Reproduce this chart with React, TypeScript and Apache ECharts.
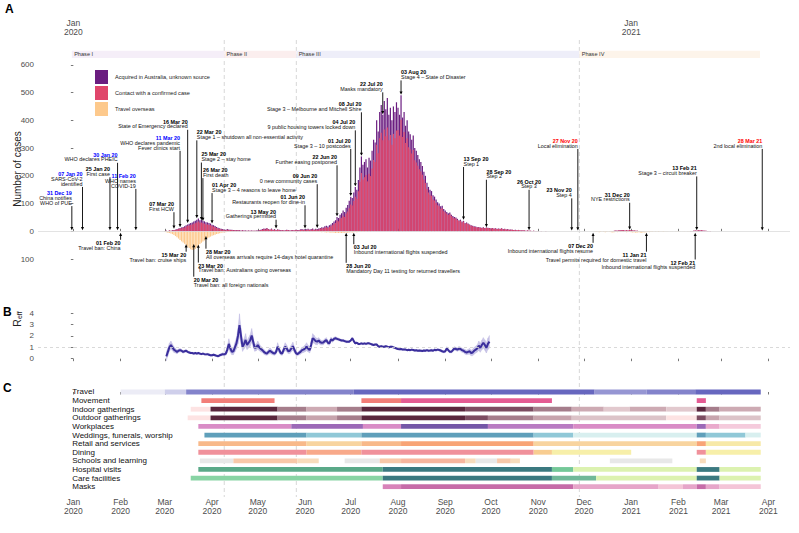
import React, { useEffect, useRef } from "react";
import * as echarts from "echarts";

const FONT = "'Liberation Sans', Arial, Helvetica, sans-serif";

// ---- x axis: days since 1 Jan 2020 ----
const X_MIN = -23.2;
const X_MAX = 470.2;
const monthStartDays = [0, 31, 60, 91, 121, 152, 182, 213, 244, 274, 305, 335, 366, 397, 425, 456];
const monthTickLabels = [
  "Jan\n2020", "Feb\n2020", "Mar\n2020", "Apr\n2020", "May\n2020", "Jun\n2020", "Jul\n2020", "Aug\n2020",
  "Sep\n2020", "Oct\n2020", "Nov\n2020", "Dec\n2020", "Jan\n2021", "Feb\n2021", "Mar\n2021", "Apr\n2021",
];
const yearStartDays = [0, 366];

// ---- Panel A: daily cases, first value = 1 Mar 2020 (day 60) ----
const firstCaseDay = 60;
// all locally acquired cases (contact + unknown source)
const localCases = [
  // Mar 2020
  1, 2, 1, 3, 2, 4, 5, 6, 8, 10, 12, 14, 16, 18, 22, 25, 27, 30, 32, 35, 38, 42, 46, 40, 42, 38, 36, 33, 32, 30, 28,
  // Apr
  24, 22, 19, 16, 13, 11, 9, 8, 7, 6, 8, 7, 6, 6, 5, 5, 4, 5, 4, 3, 4, 3, 3, 2, 3, 2, 3, 2, 2, 3,
  // May
  3, 4, 6, 8, 10, 9, 12, 8, 7, 10, 6, 8, 5, 7, 6, 4, 5, 3, 4, 6, 5, 3, 4, 5, 3, 6, 4, 5, 7, 8, 6,
  // Jun
  8, 7, 9, 6, 8, 10, 7, 9, 8, 10, 12, 15, 14, 18, 20, 17, 22, 25, 30, 35, 40, 52, 48, 60, 65, 75, 70, 85, 95, 110,
  // Jul
  125, 120, 140, 160, 150, 185, 230, 270, 240, 250, 260, 230, 265, 255, 290, 330, 320, 400, 360, 430, 455, 420, 470, 440, 480, 420, 445, 400, 450, 430, 465,
  // Aug
  445, 420, 490, 410, 430, 380, 400, 360, 350, 330, 345, 300, 290, 275, 260, 250, 235, 215, 200, 175, 160, 150, 145, 130, 125, 115, 105, 100, 90, 92, 80,
  // Sep
  75, 70, 65, 68, 60, 55, 52, 50, 45, 40, 42, 35, 38, 30, 32, 28, 25, 22, 20, 18, 17, 15, 16, 14, 13, 15, 12, 14, 13, 12,
  // Oct
  11, 12, 10, 11, 9, 10, 9, 11, 8, 9, 7, 8, 6, 7, 6, 5, 6, 4, 5, 4, 3, 4, 3, 2, 3, 2, 2, 1, 2, 1, 1,
  // Nov
  1, 0, 1, 0, 0, 1, 0, 0, 0, 0, 0, 0, 0, 0, 0, 0, 0, 0, 0, 0, 0, 0, 0, 0, 0, 0, 0, 0, 0, 0,
  // Dec
  0, 0, 0, 0, 0, 0, 0, 0, 0, 0, 0, 0, 0, 0, 0, 0, 0, 0, 0, 1, 2, 3, 2, 4, 3, 5, 4, 3, 4, 3, 5,
  // Jan 2021
  4, 3, 3, 2, 2, 1, 1, 1, 0, 0, 0, 0, 0, 0, 0, 0, 0, 0, 0, 0, 0, 0, 0, 0, 0, 0, 0, 0, 0, 0, 0,
  // Feb 2021
  0, 0, 0, 0, 0, 0, 0, 0, 1, 1, 2, 3, 2, 4, 3, 4, 3, 2, 2, 1, 1, 1, 0, 0, 0, 0, 0, 0,
];
const unknownSourceCases = [
  // Mar 2020
  0, 0, 0, 0, 0, 1, 1, 1, 1, 2, 2, 3, 3, 4, 5, 5, 6, 7, 7, 8, 9, 10, 11, 9, 10, 9, 8, 8, 7, 7, 6,
  // Apr
  5, 5, 4, 4, 3, 3, 2, 2, 2, 2, 2, 2, 1, 1, 1, 1, 1, 1, 1, 1, 1, 1, 1, 0, 1, 0, 1, 0, 0, 1,
  // May
  1, 1, 1, 2, 2, 2, 2, 1, 1, 2, 1, 2, 1, 1, 1, 1, 1, 0, 1, 1, 1, 0, 1, 1, 0, 1, 1, 1, 2, 2, 1,
  // Jun
  2, 2, 2, 1, 2, 3, 2, 2, 2, 3, 3, 4, 4, 5, 5, 5, 6, 7, 8, 9, 10, 13, 12, 15, 16, 19, 18, 21, 24, 27,
  // Jul
  28, 27, 31, 35, 33, 41, 51, 60, 53, 55, 57, 50, 58, 56, 64, 73, 70, 88, 79, 95, 100, 92, 103, 97, 106, 92, 98, 88, 99, 95, 102,
  // Aug
  80, 75, 88, 70, 72, 62, 65, 57, 54, 50, 52, 44, 42, 39, 36, 34, 31, 28, 26, 22, 20, 18, 17, 15, 14, 13, 11, 10, 9, 9, 8,
  // Sep
  7, 7, 6, 6, 5, 5, 5, 4, 4, 3, 4, 3, 3, 3, 3, 2, 2, 2, 2, 2, 1, 1, 2, 1, 1, 2, 1, 1, 1, 1,
  // Oct
  1, 1, 1, 1, 1, 1, 1, 1, 1, 1, 0, 1, 0, 1, 0, 0, 1, 0, 0, 0, 0, 0, 0, 0, 0, 0, 0, 0, 0, 0, 0,
];
const travelCases = [
  // Mar 2020
  2, 3, 5, 6, 8, 10, 13, 17, 21, 26, 31, 36, 40, 45, 49, 55, 60, 65, 67, 66, 64, 58, 52, 46, 41, 37, 33, 29, 25, 22, 19,
  // Apr
  16, 14, 12, 10, 9, 7, 5, 4, 3, 3, 2, 2, 2, 1, 1, 1, 1, 1, 0, 1, 0, 1, 0, 0, 1, 0, 0, 1, 0, 0,
  // May
  0, 0, 0, 1, 0, 0, 0, 1, 0, 0, 0, 0, 1, 0, 0, 0, 0, 1, 0, 0, 0, 0, 1, 0, 0, 1, 0, 0, 1, 0, 0,
  // Jun
  1, 0, 1, 1, 0, 1, 1, 2, 1, 2, 2, 3, 2, 3, 4, 3, 4, 5, 4, 5, 6, 5, 6, 5, 6, 5, 5, 4, 5, 4,
  // Jul
  3, 4, 3, 2, 3, 2, 1, 2, 1, 1, 1, 0, 1, 0, 0, 1, 0, 0, 0, 0, 0, 0, 0, 0, 0, 0, 0, 0, 0, 0, 0,
  // Aug
  0, 0, 0, 0, 0, 0, 0, 0, 0, 0, 0, 0, 0, 0, 0, 0, 0, 0, 0, 0, 0, 0, 0, 0, 0, 0, 0, 0, 0, 0, 0,
  // Sep
  0, 0, 0, 0, 0, 0, 0, 0, 0, 0, 0, 0, 0, 0, 0, 0, 0, 0, 0, 0, 0, 0, 0, 0, 0, 0, 0, 0, 0, 0,
  // Oct
  0, 0, 0, 0, 0, 0, 0, 0, 0, 0, 0, 0, 0, 0, 0, 0, 0, 0, 0, 0, 0, 0, 0, 0, 0, 0, 0, 0, 0, 0, 0,
  // Nov
  0, 0, 0, 0, 0, 0, 0, 0, 0, 0, 0, 0, 0, 0, 0, 0, 0, 0, 0, 0, 0, 0, 0, 0, 0, 0, 0, 0, 0, 0,
  // Dec
  0, 0, 0, 0, 0, 0, 0, 1, 2, 1, 3, 2, 1, 2, 3, 2, 1, 2, 3, 4, 3, 2, 3, 1, 2, 2, 1, 2, 3, 2, 1,
  // Jan 2021
  3, 4, 3, 5, 4, 3, 4, 5, 3, 4, 3, 2, 3, 2, 2, 1, 2, 1, 2, 1, 1, 2, 1, 1, 1, 0, 1, 1, 0, 1, 1,
  // Feb 2021
  1, 1, 0, 1, 1, 0, 1, 1, 0, 1, 0, 1, 1, 0, 0, 0, 0, 0, 0, 0, 0, 0, 0, 0, 0, 0, 0, 0,
];

// ---- phases ----
const phaseNames = ["Phase I", "Phase II", "Phase III", "Phase IV"];
const phaseStartDays = [-1, 99, 146.3, 332];
const phaseEndDays = [99, 146.3, 332, 450.5];
const phaseColors = ["#f5eef8", "#fbeeee", "#eeeef9", "#fdf4ea"];

// ---- events: [date label, day, description, label height (cases), arrow tip (cases), anchor, kind] ----
const events: [string, number, string, number, number, string, string][] = [
  ["31 Dec 19", -1, "China notifies\nWHO of PUE", 137, 4, "right", "who"],
  ["07 Jan 20", 6, "SARS-CoV-2\nidentified", 206, 4, "right", "who"],
  ["25 Jan 20", 24, "First case", 224, 4, "right", "vic"],
  ["30 Jan 20", 29, "WHO declares PHEIC", 276, 4, "right", "who"],
  ["11 Feb 20", 41, "WHO names\nCOVID-19", 199, 4, "right", "who"],
  ["07 Mar 20", 66, "First HCW", 98, 9, "right", "vic"],
  ["11 Mar 20", 70, "WHO declares pandemic\nFever clinics start", 336, 15, "right", "who"],
  ["16 Mar 20", 75, "State of Emergency declared", 395, 30, "right", "vic"],
  ["22 Mar 20", 81, "Stage 1 – shutdown all non-essential activity", 357, 47, "left", "vic"],
  ["25 Mar 20", 84, "Stage 2 – stay home", 277, 40, "left", "vic"],
  ["26 Mar 20", 85, "First death", 221, 37, "left", "vic"],
  ["01 Apr 20", 91, "Stage 3 – 4 reasons to leave home", 167, 28, "left", "vic"],
  ["13 May 20", 133, "Gatherings permitted", 71, 10, "right", "vic"],
  ["01 Jun 20", 152, "Restaurants reopen for dine-in", 123, 10, "right", "vic"],
  ["09 Jun 20", 160, "0 new community cases", 199, 12, "right", "vic"],
  ["22 Jun 20", 173, "Further easing postponed", 267, 54, "right", "vic"],
  ["01 Jul 20", 182, "Stage 3 – 10 postcodes", 326, 127, "right", "vic"],
  ["04 Jul 20", 185, "9 public housing towers locked down", 393, 162, "right", "vic"],
  ["08 Jul 20", 189, "Stage 3 – Melbourne and Mitchell Shire", 458, 272, "right", "vic"],
  ["22 Jul 20", 203, "Masks mandatory", 530, 422, "right", "vic"],
  ["03 Aug 20", 215, "Stage 4 – State of Disaster", 573, 492, "left", "vic"],
  ["13 Sep 20", 256, "Step 1", 261, 42, "left", "vic"],
  ["28 Sep 20", 271, "Step 2", 215, 15, "left", "vic"],
  ["26 Oct 20", 299, "Step 3", 179, 4, "center", "vic"],
  ["23 Nov 20", 327, "Step 4", 148, 3, "right", "vic"],
  ["27 Nov 20", 331, "Local elimination", 326, 3, "right", "elim"],
  ["31 Dec 20", 365, "NYE restrictions", 132, 6, "right", "vic"],
  ["13 Feb 21", 409, "Stage 3 – circuit breaker", 227, 4, "right", "vic"],
  ["28 Mar 21", 452, "2nd local elimination", 326, 3, "right", "elim"],
  ["01 Feb 20", 31, "Travel ban: China", -42, -5, "right", "vic"],
  ["15 Mar 20", 74, "Travel ban: cruise ships", -85, -47, "right", "vic"],
  ["20 Mar 20", 79, "Travel ban: all foreign nationals", -175, -46, "left", "vic"],
  ["23 Mar 20", 82, "Travel ban: Australians going overseas", -124, -48, "left", "vic"],
  ["28 Mar 20", 87, "All overseas arrivals require 14-days hotel quarantine", -74, -17, "left", "vic"],
  ["28 Jun 20", 179, "Mandatory Day 11 testing for returned travellers", -125, -5, "left", "vic"],
  ["03 Jul 20", 184, "Inbound international flights suspended", -58, -5, "left", "vic"],
  ["07 Dec 20", 341, "Inbound international flights resume", -53, -5, "right", "vic"],
  ["11 Jan 21", 376, "Travel permits required for domestic travel", -85, -5, "right", "vic"],
  ["12 Feb 21", 408, "Inbound international flights suspended", -113, -5, "right", "vic"],
];
const eventKindColors: Record<string, string> = { who: "#0000ff", elim: "#ff0000", vic: "#000000" };

// ---- Panel B: R_eff, first value = day 61 ----
const firstReffDay = 61;
const reffMedian = [
  0.2, 0.6, 1.0, 1.2, 1.0, 0.8, 0.7, 0.6, 0.7, 0.75,
  0.7, 0.6, 0.65, 0.7, 0.6, 0.55, 0.5, 0.5, 0.45, 0.5,
  0.45, 0.5, 0.45, 0.4, 0.45, 0.4, 0.38, 0.4, 0.35, 0.3,
  0.3, 0.35, 0.3, 0.25, 0.22, 0.3, 0.35, 0.4, 0.38, 0.45,
  0.8, 1.3, 0.9, 0.6, 0.65, 1.0, 1.35, 2.0, 2.95, 2.0,
  1.05, 1.3, 1.65, 1.2, 1.4, 1.6, 2.05, 1.5, 0.95, 1.0,
  1.2, 1.0, 0.85, 0.75, 0.6, 0.5, 0.45, 0.6, 0.7, 0.6,
  0.5, 0.45, 0.6, 1.05, 0.8, 0.5, 0.45, 0.8, 1.05, 0.9,
  0.65, 0.7, 0.9, 1.1, 0.8, 0.5, 0.4, 0.5, 0.6, 0.75,
  0.8, 0.9, 1.05, 0.9, 0.75, 1.2, 1.8, 1.7, 1.55, 1.5,
  1.6, 1.45, 1.4, 1.42, 1.55, 1.65, 1.4, 1.35, 1.7, 1.6,
  1.75, 1.8, 1.75, 1.7, 1.65, 1.6, 1.6, 1.55, 1.5, 1.5,
  1.5, 1.6, 1.8, 1.55, 1.35, 1.4, 1.3, 1.3, 1.35, 1.3,
  1.35, 1.3, 1.35, 1.35, 1.3, 1.25, 1.2, 1.25, 1.25, 1.1,
  1.05, 1.1, 1.05, 1.05, 1.1, 1.05, 1.0, 1.05, 1.05, 1.0,
  0.95, 0.9, 0.85, 0.83, 0.85, 0.8, 0.8, 0.8, 0.75, 0.78,
  0.75, 0.8, 0.77, 0.72, 0.75, 0.7, 0.72, 0.7, 0.68, 0.72,
  0.7, 0.75, 0.7, 0.72, 0.75, 0.7, 0.78, 0.75, 0.8, 0.77,
  0.72, 0.65, 0.6, 0.65, 0.9, 0.75, 0.6, 0.6, 0.75, 0.9,
  0.85, 0.8, 0.9, 0.85, 0.75, 0.7, 0.6, 0.55, 0.6, 0.65,
  0.5, 0.55, 0.7, 0.8, 0.9, 1.15, 0.95, 1.2, 1.4, 1.2,
  0.95, 1.3, 1.5,
];
const reffHalfWidth = [
  0.4, 0.35, 0.35, 0.35, 0.3, 0.25, 0.2, 0.18, 0.15, 0.15,
  0.12, 0.12, 0.1, 0.1, 0.1, 0.08, 0.08, 0.08, 0.08, 0.08,
  0.08, 0.08, 0.08, 0.08, 0.08, 0.08, 0.08, 0.08, 0.08, 0.08,
  0.08, 0.08, 0.08, 0.08, 0.08, 0.1, 0.1, 0.12, 0.12, 0.15,
  0.3, 0.45, 0.35, 0.25, 0.3, 0.4, 0.5, 0.7, 1.0, 0.7,
  0.4, 0.45, 0.55, 0.4, 0.45, 0.5, 0.6, 0.45, 0.3, 0.3,
  0.35, 0.3, 0.25, 0.2, 0.2, 0.18, 0.15, 0.2, 0.25, 0.2,
  0.18, 0.15, 0.2, 0.35, 0.25, 0.18, 0.15, 0.25, 0.35, 0.3,
  0.2, 0.25, 0.3, 0.35, 0.25, 0.18, 0.15, 0.18, 0.2, 0.25,
  0.25, 0.3, 0.35, 0.3, 0.25, 0.35, 0.4, 0.35, 0.3, 0.28,
  0.25, 0.22, 0.2, 0.2, 0.2, 0.2, 0.18, 0.16, 0.18, 0.15,
  0.15, 0.14, 0.12, 0.12, 0.1, 0.1, 0.1, 0.1, 0.1, 0.08,
  0.08, 0.09, 0.1, 0.09, 0.08, 0.08, 0.08, 0.08, 0.08, 0.08,
  0.08, 0.08, 0.08, 0.08, 0.08, 0.08, 0.07, 0.07, 0.07, 0.07,
  0.07, 0.07, 0.07, 0.07, 0.07, 0.07, 0.07, 0.07, 0.07, 0.07,
  0.07, 0.07, 0.07, 0.07, 0.07, 0.07, 0.07, 0.07, 0.07, 0.07,
  0.07, 0.07, 0.07, 0.07, 0.07, 0.07, 0.08, 0.08, 0.08, 0.08,
  0.08, 0.08, 0.08, 0.08, 0.08, 0.08, 0.09, 0.09, 0.09, 0.09,
  0.1, 0.1, 0.1, 0.1, 0.15, 0.12, 0.1, 0.1, 0.12, 0.15,
  0.15, 0.15, 0.18, 0.18, 0.18, 0.18, 0.2, 0.2, 0.22, 0.25,
  0.25, 0.28, 0.3, 0.3, 0.32, 0.4, 0.38, 0.42, 0.45, 0.45,
  0.45, 0.5, 0.55,
];

// ---- Panel C: restrictions; segments [start day, end day, level] ----
const restrictionNames = [
  "Travel", "Movement", "Indoor gatherings", "Outdoor gatherings", "Workplaces", "Weddings, funerals, worship",
  "Retail and services", "Dining", "Schools and learning", "Hospital visits", "Care facilities", "Masks",
];
const restrictionSegments: [number, number, number][][] = [
  [[31, 60, 0], [60, 74, 1], [74, 184, 3], [184, 342, 4], [342, 376, 2], [376, 408, 3], [408, 451, 4]],
  [[84, 132, 0], [189, 215, 0], [215, 314, 1], [409, 415, 1]],
  [[77, 90, 0], [90, 134, 5], [134, 153, 3], [153, 173, 2], [173, 189, 3], [189, 257, 5], [257, 302, 4], [302, 327, 3], [327, 348, 2], [348, 365, 1], [365, 389, 2], [389, 409, 1], [409, 415, 5], [415, 424, 3], [424, 451, 2]],
  [[75, 90, 0], [90, 134, 5], [134, 153, 3], [153, 173, 2], [173, 189, 3], [189, 257, 5], [257, 272, 4], [272, 302, 3], [302, 327, 2], [327, 389, 1], [389, 409, 0], [409, 415, 4], [415, 424, 2], [424, 451, 1]],
  [[82, 143, 2], [143, 190, 4], [190, 215, 2], [215, 272, 5], [272, 328, 3], [328, 409, 2], [409, 415, 4], [415, 424, 1], [424, 451, 0]],
  [[86, 153, 2], [153, 189, 1], [189, 302, 2], [302, 328, 1], [328, 409, 0], [409, 415, 2], [415, 441, 1], [441, 451, 0]],
  [[82, 153, 2], [153, 189, 1], [189, 215, 2], [215, 302, 3], [302, 409, 1], [409, 415, 3], [415, 451, 0]],
  [[82, 153, 3], [153, 189, 2], [189, 302, 3], [302, 314, 1], [314, 366, 0], [409, 415, 3], [415, 451, 0]],
  [[83, 105, 0], [105, 147, 2], [147, 161, 1], [178, 201, 0], [201, 215, 2], [215, 257, 3], [257, 264, 1], [264, 278, 0], [278, 287, 2], [287, 293, 1], [352, 393, 0], [411, 415, 1]],
  [[82, 203, 2], [203, 314, 3], [314, 328, 1], [328, 409, 0], [409, 424, 3], [424, 451, 0]],
  [[77, 203, 2], [203, 314, 3], [314, 343, 1], [343, 409, 0], [409, 424, 3], [424, 451, 0]],
  [[203, 215, 2], [215, 328, 3], [328, 384, 1], [384, 400, 0], [400, 409, 1], [409, 415, 3], [415, 424, 1], [424, 451, 0]],
];
const restrictionPalettes = [
  ["#ececf6", "#cfcfeb", "#9696d3", "#8383cb", "#6767bf"],
  ["#f27d78", "#e45b93"],
  ["#fde3e3", "#e2c9ce", "#cdaab3", "#a57d8b", "#7c4c61", "#5a263d"],
  ["#fde3e3", "#dcc3c8", "#c7a4ad", "#a57d8b", "#7c4c61", "#5a263d"],
  ["#f5cbdc", "#eaaacc", "#d98cc6", "#b97bc2", "#9c69b7", "#7557a7"],
  ["#d8efef", "#90c8d7", "#5f9fba"],
  ["#f7e9a8", "#f8d49f", "#f8b98a", "#f8a476"],
  ["#f7efa9", "#f8cd91", "#f8a98a", "#f0919b"],
  ["#e8e8e8", "#f8dcbc", "#f8c8a9", "#f8b69e"],
  ["#dcf2b0", "#74c898", "#5aa988", "#3b7980"],
  ["#dcf2b0", "#70b898", "#88d4a4", "#3b7980"],
  ["#f4c5d7", "#e6a5c9", "#d882b9", "#c66ba8"],
];

const phaseBoundaryDays = [99, 146.3, 332];

const monthLabel = (v: number) => {
  const i = monthStartDays.indexOf(Math.round(v));
  return i >= 0 ? monthTickLabels[i] : "";
};

function buildOption() {
  const totalData = localCases.map((t, i) => [firstCaseDay + i, t]);
  const contactData = localCases.map((t, i) => [firstCaseDay + i, t - (unknownSourceCases[i] || 0)]);
  const travelData = travelCases.map((v, i) => [firstCaseDay + i, -v]);
  const bandData = reffMedian.map((r, i) => [firstReffDay + i, r - reffHalfWidth[i], r + reffHalfWidth[i]]);
  const reffLine = reffMedian.map((r, i) => [firstReffDay + i, r]);
  const segData: number[][] = [];
  restrictionSegments.forEach((segs, row) => segs.forEach((s) => segData.push([row, s[0], s[1], s[2]])));

  const tickStyle = { color: "#555", width: 0.8 };
  const labelStyle = { color: "#4d4d4d", fontSize: 8, fontFamily: FONT };
  const xBase = { type: "value", min: X_MIN, max: X_MAX, splitLine: { show: false }, axisLine: { show: false } };
  const barBase = { xAxisIndex: 0, yAxisIndex: 0, barWidth: 1.2, barGap: "-100%", z: 3, silent: true };

  return {
    animation: false,
    textStyle: { fontFamily: FONT },
    grid: [
      { left: 38, width: 752, top: 40, height: 249.6 },
      { left: 38, width: 752, top: 307.6, height: 52.9 },
      { left: 38, width: 752, top: 387, height: 107 },
      { left: 38, width: 752, top: 40, height: 457 },
    ],
    legend: {
      data: ["Acquired in Australia, unknown source", "Contact with a confirmed case", "Travel overseas"],
      orient: "vertical",
      left: 95,
      top: 70,
      itemWidth: 13,
      itemHeight: 14,
      itemGap: 2,
      icon: "rect",
      padding: 0,
      textStyle: { fontSize: 5.6, color: "#222", fontFamily: FONT, padding: [0, 0, 0, 2] },
      selectedMode: false,
    },
    xAxis: [
      {
        ...xBase, gridIndex: 0, position: "top",
        axisTick: { show: true, length: 2.5, lineStyle: tickStyle, customValues: monthStartDays },
        axisLabel: { ...labelStyle, fontSize: 8.5, lineHeight: 9.5, margin: 3, customValues: yearStartDays, formatter: monthLabel },
      },
      {
        ...xBase, gridIndex: 1,
        axisTick: { show: true, length: 2.5, lineStyle: tickStyle, customValues: monthStartDays },
        axisLabel: { show: false },
      },
      {
        ...xBase, gridIndex: 2,
        axisTick: { show: true, length: 2.5, lineStyle: tickStyle, customValues: monthStartDays },
        axisLabel: { ...labelStyle, fontSize: 8.5, lineHeight: 9.2, margin: 3, customValues: monthStartDays, formatter: monthLabel },
      },
      { ...xBase, gridIndex: 3, show: false },
    ],
    yAxis: [
      {
        type: "value", gridIndex: 0, min: -210, max: 689.4,
        splitLine: { show: false }, axisLine: { show: false },
        axisTick: { show: true, length: 2.5, lineStyle: tickStyle, customValues: [-100, 0, 100, 200, 300, 400, 500, 600] },
        axisLabel: { ...labelStyle, margin: 4, customValues: [-100, 0, 100, 200, 300, 400, 500, 600], formatter: (v: number) => String(Math.abs(v)) },
      },
      {
        type: "value", gridIndex: 1, min: -0.16, max: 4.5,
        splitLine: { show: false }, axisLine: { show: false },
        axisTick: { show: true, length: 2.5, lineStyle: tickStyle, customValues: [0, 1, 2, 3, 4] },
        axisLabel: { ...labelStyle, margin: 4, customValues: [0, 1, 2, 3, 4] },
      },
      { type: "value", gridIndex: 2, min: -0.58, max: 11.85, inverse: true, show: false },
      { type: "value", gridIndex: 3, min: 0, max: 1, show: false },
    ],
    graphic: [
      { type: "text", left: 5, top: 3, style: { text: "A", font: `bold 12px ${FONT}`, fill: "#000" } },
      { type: "text", left: 3, top: 306, style: { text: "B", font: `bold 12px ${FONT}`, fill: "#000" } },
      { type: "text", left: 3, top: 382, style: { text: "C", font: `bold 12px ${FONT}`, fill: "#000" } },
      {
        type: "text", x: 17, y: 169, rotation: Math.PI / 2,
        style: { text: "Number of cases", font: `10px ${FONT}`, fill: "#222", align: "center", verticalAlign: "middle" },
      },
      {
        type: "text", x: 17, y: 319, rotation: Math.PI / 2,
        style: {
          text: "{r|R}{e|eff}", align: "center", verticalAlign: "middle",
          rich: {
            r: { fontSize: 10.5, fontFamily: FONT, fill: "#222", lineHeight: 14 },
            e: { fontSize: 7, fontFamily: FONT, fill: "#222", lineHeight: 14, padding: [5, 0, 0, 0] },
          },
        },
      },
    ],
    series: [
      {
        type: "custom", name: "phases", xAxisIndex: 0, yAxisIndex: 0, clip: false, silent: true, z: 1,
        data: phaseNames.map((_, i) => [phaseStartDays[i], phaseEndDays[i], i]),
        renderItem: (params: any, api: any) => {
          const i = api.value(2);
          const p1 = api.coord([api.value(0), 651]);
          const p2 = api.coord([api.value(1), 624.5]);
          return {
            type: "group",
            children: [
              { type: "rect", shape: { x: p1[0], y: p1[1], width: p2[0] - p1[0], height: p2[1] - p1[1] }, style: { fill: phaseColors[i] } },
              { type: "text", x: p1[0] + 2.3, y: (p1[1] + p2[1]) / 2, style: { text: phaseNames[i], font: `5.6px ${FONT}`, fill: "#333", align: "left", verticalAlign: "middle" } },
            ],
          };
        },
      },
      { ...barBase, type: "bar", name: "Acquired in Australia, unknown source", data: totalData, itemStyle: { color: "#6b1d80" } },
      { ...barBase, type: "bar", name: "Contact with a confirmed case", data: contactData, itemStyle: { color: "#e0466b" } },
      {
        ...barBase, type: "bar", name: "Travel overseas", data: travelData, itemStyle: { color: "#fdc98c" },
        markLine: {
          silent: true, symbol: "none", label: { show: false },
          lineStyle: { color: "#dcdcdc", width: 0.8, type: "solid" },
          data: [{ yAxis: 0 }],
        },
      },
      {
        type: "custom", name: "events", xAxisIndex: 0, yAxisIndex: 0, clip: false, silent: true, z: 5,
        data: events.map((e) => [e[1], e[3], e[4]]),
        renderItem: (params: any, api: any) => {
          const ev = events[params.dataIndex];
          const day = api.value(0);
          const p = api.coord([day, api.value(1)]);
          const tip = api.coord([day, api.value(2)]);
          const x = p[0];
          const nLines = ev[2].split("\n").length;
          const lh = 4.7;
          const above = api.value(1) > 0;
          const children: any[] = [
            { type: "text", x, y: p[1], style: { text: ev[0], font: `bold 5.4px ${FONT}`, fill: eventKindColors[ev[6]], align: ev[5], verticalAlign: "middle" } },
            { type: "text", x, y: p[1] + 2.4, style: { text: ev[2], font: `5.4px ${FONT}`, fill: "#111", align: ev[5], verticalAlign: "top", lineHeight: lh } },
          ];
          const head = 3.2;
          if (above) {
            const y0 = p[1] + 2.4 + nLines * lh + 1;
            const y1 = tip[1];
            if (y1 - y0 > head) {
              children.push({ type: "line", shape: { x1: x, y1: y0, x2: x, y2: y1 - head + 0.5 }, style: { stroke: "#000", lineWidth: 0.9 } });
              children.push({ type: "polygon", shape: { points: [[x - 1.5, y1 - head], [x + 1.5, y1 - head], [x, y1]] }, style: { fill: "#000" } });
            }
          } else {
            const y0 = p[1] - 3.2;
            const y1 = tip[1];
            if (y0 - y1 > head) {
              children.push({ type: "line", shape: { x1: x, y1: y0, x2: x, y2: y1 + head - 0.5 }, style: { stroke: "#000", lineWidth: 0.9 } });
              children.push({ type: "polygon", shape: { points: [[x - 1.5, y1 + head], [x + 1.5, y1 + head], [x, y1]] }, style: { fill: "#000" } });
            }
          }
          return { type: "group", children };
        },
      },
      {
        type: "custom", name: "reffBand", xAxisIndex: 1, yAxisIndex: 1, clip: false, silent: true, z: 2,
        data: bandData,
        renderItem: (params: any, api: any) => {
          const i = params.dataIndex;
          if (i >= bandData.length - 1) return null;
          const n = bandData[i + 1];
          const a = api.coord([api.value(0), api.value(2)]);
          const b = api.coord([n[0], n[2]]);
          const c = api.coord([n[0], n[1]]);
          const d = api.coord([api.value(0), api.value(1)]);
          return {
            type: "polygon",
            shape: { points: [a, b, c, d] },
            style: { fill: "#c4c0e5", stroke: "#c4c0e5", lineWidth: 0.4 },
          };
        },
      },
      {
        type: "line", name: "Reff", xAxisIndex: 1, yAxisIndex: 1, data: reffLine,
        symbol: "none", lineStyle: { color: "#3a2e9c", width: 2 }, silent: true, z: 3,
        markLine: {
          silent: true, symbol: "none", label: { show: false },
          lineStyle: { color: "#cfcfcf", width: 0.8, type: [3, 3] },
          data: [{ yAxis: 1 }],
        },
      },
      {
        type: "custom", name: "restrictions", xAxisIndex: 2, yAxisIndex: 2, clip: false, silent: true, z: 3,
        data: segData,
        renderItem: (params: any, api: any) => {
          const row = api.value(0);
          const p1 = api.coord([api.value(1), row]);
          const p2 = api.coord([api.value(2), row]);
          return {
            type: "rect",
            shape: { x: p1[0], y: p1[1] - 2.4, width: p2[0] - p1[0], height: 4.8 },
            style: { fill: restrictionPalettes[row][api.value(3)] },
          };
        },
      },
      {
        type: "custom", name: "restrictionLabels", xAxisIndex: 2, yAxisIndex: 2, clip: false, silent: true, z: 4,
        data: restrictionNames.map((_, i) => [0, i]),
        renderItem: (params: any, api: any) => {
          const p = api.coord([api.value(0), api.value(1)]);
          return {
            type: "text", x: p[0] - 1.1, y: p[1],
            style: { text: restrictionNames[params.dataIndex], font: `8px ${FONT}`, fill: "#111", align: "left", verticalAlign: "middle" },
          };
        },
      },
      {
        type: "custom", name: "phaseLines", xAxisIndex: 3, yAxisIndex: 3, clip: false, silent: true, z: 0,
        data: phaseBoundaryDays.map((d) => [d]),
        renderItem: (params: any, api: any) => {
          const a = api.coord([api.value(0), 1]);
          const b = api.coord([api.value(0), 0]);
          return {
            type: "line", shape: { x1: a[0], y1: a[1], x2: b[0], y2: b[1] },
            style: { stroke: "#d2d2d2", lineWidth: 0.9, lineDash: [4, 3] },
          };
        },
      },
    ],
  };
}

export default function App() {
  const ref = useRef<HTMLDivElement>(null);
  useEffect(() => {
    const chart = echarts.init(ref.current as HTMLDivElement, null, { renderer: "svg" });
    chart.setOption(buildOption() as any);
    return () => chart.dispose();
  }, []);
  return <div ref={ref} style={{ position: "fixed", left: 0, top: 0, width: 799, height: 533, background: "#fff" }} />;
}
